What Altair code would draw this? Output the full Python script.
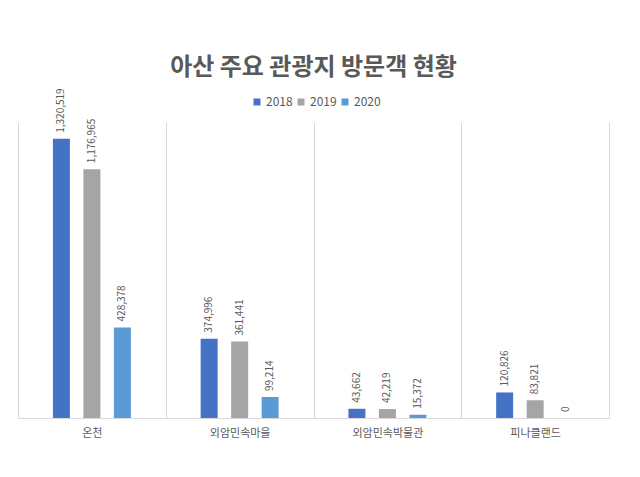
import altair as alt
import pandas as pd

categories = ["온천", "외암민속마을", "외암민속박물관", "피나클랜드"]
years = ["2018", "2019", "2020"]
v2018 = [1320519, 374996, 43662, 120826]
v2019 = [1176965, 361441, 42219, 83821]
v2020 = [428378, 99214, 15372, 0]
colors = ["#4472C4", "#A5A5A5", "#5B9BD5"]

rows = []
for yr, vals in zip(years, [v2018, v2019, v2020]):
    for c, v in zip(categories, vals):
        rows.append({"장소": c, "연도": yr, "방문객": v})
df = pd.DataFrame(rows)

FONT = "Noto Sans CJK KR"
GRAY = "#595959"

base = alt.Chart(df).encode(
    x=alt.X(
        "장소:N",
        sort=categories,
        scale=alt.Scale(paddingInner=0, paddingOuter=0),
        axis=alt.Axis(
            title=None, labelAngle=0, tickBand="extent", grid=True,
            gridColor="#D9D9D9", domainColor="#D9D9D9", ticks=False,
            labelPadding=9, labelFontSize=11, labelColor=GRAY, labelFont=FONT,
        ),
    ),
    xOffset=alt.XOffset("연도:N", sort=years,
                        scale=alt.Scale(range=[34.9, 112.9], paddingInner=0.443,
                                        paddingOuter=0)),
    y=alt.Y("방문객:Q", scale=alt.Scale(domain=[0, 1400000]), axis=None),
)

bars = base.mark_bar().encode(
    color=alt.Color(
        "연도:N",
        scale=alt.Scale(domain=years, range=colors),
        legend=alt.Legend(
            title=None, orient="none", legendX=233, legendY=-26,
            direction="horizontal", symbolType="square", symbolSize=49,
            symbolStrokeWidth=0, labelFontSize=12, labelColor=GRAY,
            labelFont=FONT, columnPadding=2, labelOffset=3,
        ),
    )
)

labels = base.mark_text(
    angle=270, align="left", baseline="middle", dx=6, fontSize=10,
    color=GRAY, font=FONT,
).encode(text=alt.Text("방문객:Q", format=","))

chart = alt.layer(bars, labels).properties(
    width=591,
    height=296,
    autosize=alt.AutoSizeParams(type="none"),
    padding={"left": 10, "top": 114, "right": 20, "bottom": 50},
    title=alt.TitleParams(
        "아산 주요 관광지 방문객 현황", fontSize=24, font=FONT,
        fontWeight="bold", color=GRAY, anchor="middle", offset=8,
    ),
).configure_view(stroke=None)

chart.save("out.html", embed_options={"renderer": "svg", "actions": False})
